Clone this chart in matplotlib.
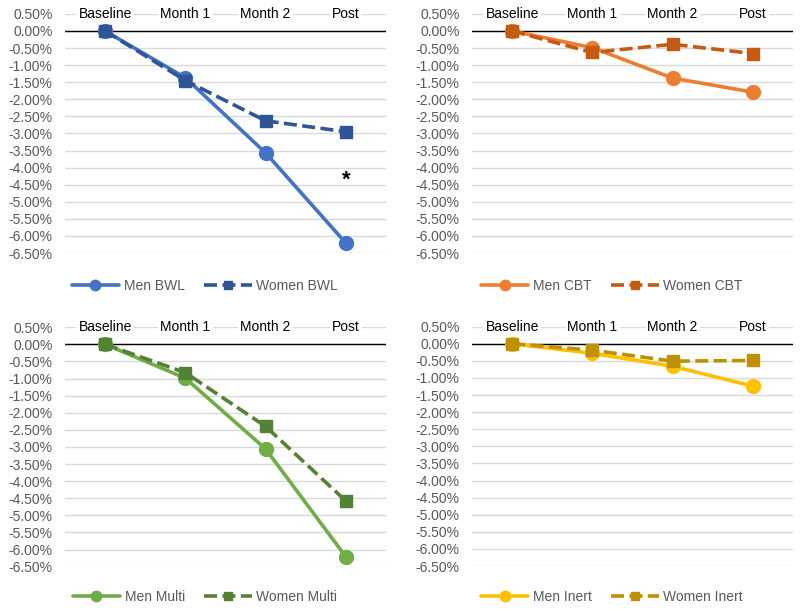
import matplotlib
matplotlib.use("Agg")
import matplotlib.pyplot as plt
from matplotlib.ticker import FuncFormatter, MultipleLocator

plt.rcParams['font.family'] = ['Liberation Sans', 'DejaVu Sans']

categories = ["Baseline", "Month 1", "Month 2", "Post"]

men_bwl = [0.0, -1.37, -3.57, -6.21]
women_bwl = [0.0, -1.45, -2.63, -2.95]
men_cbt = [0.0, -0.49, -1.38, -1.79]
women_cbt = [0.0, -0.63, -0.39, -0.66]
men_multi = [0.0, -0.99, -3.06, -6.21]
women_multi = [0.0, -0.83, -2.40, -4.58]
men_inert = [0.0, -0.28, -0.66, -1.24]
women_inert = [0.0, -0.19, -0.51, -0.49]

star_label = "*"
star_pos = (3, -4.38)

panels = [
    ("Men BWL", men_bwl, "#4472C4", "Women BWL", women_bwl, "#2F5597"),
    ("Men CBT", men_cbt, "#ED7D31", "Women CBT", women_cbt, "#C55A11"),
    ("Men Multi", men_multi, "#70AD47", "Women Multi", women_multi, "#548235"),
    ("Men Inert", men_inert, "#FFC000", "Women Inert", women_inert, "#BF9000"),
]

fig = plt.figure(figsize=(8.0, 6.11), dpi=100)

W, H = 800.0, 611.0
rects = [
    (65, 13.9, 386, 253.0),
    (472, 13.9, 793, 253.0),
    (65, 327.2, 386, 566.7),
    (472, 326.6, 793, 566.1),
]
legend_xy = [(205, 286), (612, 286), (205, 597), (612, 597)]

x = list(range(len(categories)))
fmt = FuncFormatter(lambda v, p: f"{v:.2f}%")

for i, (rect, panel) in enumerate(zip(rects, panels)):
    l, t, r, b = rect
    ax = fig.add_axes([l / W, 1 - b / H, (r - l) / W, (b - t) / H])
    mlab, mvals, mcol, wlab, wvals, wcol = panel
    ax.set_xlim(-0.5, 3.5)
    ax.set_ylim(-6.5, 0.5)
    ax.yaxis.set_major_locator(MultipleLocator(0.5))
    ax.yaxis.set_major_formatter(fmt)
    ax.grid(axis='y', color='#D9D9D9', linewidth=1.0, zorder=0)
    ax.set_axisbelow(True)
    for s in ax.spines.values():
        s.set_visible(False)
    ax.tick_params(axis='y', length=0, labelsize=10, labelcolor='#595959', pad=9)
    ax.set_xticks([])
    ax.axhline(0, color='black', linewidth=1.0, zorder=1)

    lm, = ax.plot(x, mvals, color=mcol, linewidth=2.6, marker='o', markersize=10,
                  label=mlab, zorder=3, solid_capstyle='round')
    lw, = ax.plot(x, wvals, color=wcol, linewidth=2.6, marker='s', markersize=8.5,
                  linestyle=(0, (3.6, 1.5)), label=wlab, zorder=4)

    for xi, c in zip(x, categories):
        ax.text(xi, 0.5, c, ha='center', va='center', fontsize=10, color='black',
                bbox=dict(facecolor='white', edgecolor='none', pad=1.5), zorder=5,
                clip_on=False)

    if i == 0:
        ax.text(star_pos[0], star_pos[1], star_label, ha='center', va='center',
                fontsize=16, fontweight='bold', color='black')

    lx, ly = legend_xy[i]
    leg = fig.legend(handles=[lm, lw], loc='center',
                     bbox_to_anchor=(lx / W, 1 - ly / H),
                     ncol=2, frameon=False, fontsize=10, handlelength=3.4,
                     columnspacing=1.4, handletextpad=0.35, markerscale=0.75)
    for txt in leg.get_texts():
        txt.set_color('#595959')

fig.savefig("out.png", dpi=100, facecolor='white')
